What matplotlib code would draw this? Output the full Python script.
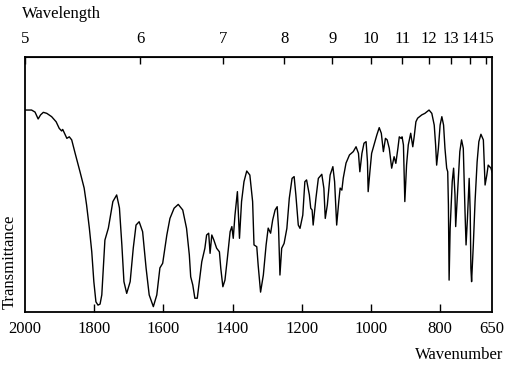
import matplotlib.pyplot as plt
import numpy as np

plt.rcParams['font.family'] = ['Liberation Serif', 'DejaVu Serif']

# IR spectrum: wavenumber (cm-1) vs transmittance (%)
wavenumber = [2000, 1981, 1971, 1962, 1955, 1947, 1937, 1923, 1910, 1901, 1894, 1891,
              1886, 1879, 1872, 1865, 1855, 1841, 1829, 1822, 1814, 1807, 1801, 1795,
              1789, 1783, 1778, 1769, 1759, 1746, 1735, 1727, 1720, 1714, 1706, 1696,
              1687, 1679, 1670, 1660, 1650, 1641, 1629, 1619, 1610, 1602, 1590, 1581,
              1569, 1557, 1544, 1533, 1525, 1521, 1515, 1509, 1502, 1496, 1489, 1480,
              1475, 1469, 1465, 1460, 1454, 1446, 1438, 1434, 1428, 1422, 1415, 1407,
              1402, 1398, 1393, 1386, 1380, 1374, 1367, 1359, 1350, 1342, 1338, 1330,
              1326, 1319, 1311, 1303, 1297, 1290, 1284, 1277, 1271, 1267, 1263, 1258,
              1251, 1243, 1236, 1228, 1222, 1217, 1210, 1205, 1197, 1191, 1186, 1178,
              1174, 1170, 1167, 1159, 1152, 1142, 1136, 1132, 1126, 1118, 1110, 1105,
              1099, 1093, 1089, 1084, 1080, 1072, 1062, 1051, 1043, 1036, 1032, 1026,
              1020, 1014, 1010, 1008, 1003, 998, 991, 983, 976, 970, 964, 958,
              953, 947, 940, 933, 928, 922, 918, 913, 910, 906, 902, 897,
              892, 885, 879, 875, 870, 865, 853, 844, 832, 824, 817, 813,
              810, 805, 800, 795, 790, 786, 781, 778, 776, 774, 771, 765,
              761, 757, 755, 749, 743, 738, 733, 728, 725, 721, 716, 713,
              711, 709, 704, 699, 693, 688, 682, 675, 670, 665, 661, 653, 650]
transmittance = [79.2, 79.2, 78.4, 75.7, 77.3, 78.3, 77.9, 76.6, 74.6, 72.0, 71.0, 71.6,
                 70.1, 68.1, 68.7, 67.5, 62.2, 55.0, 48.6, 42.0, 32.9, 23.6, 11.9, 4.0,
                 2.7, 3.1, 6.7, 28.2, 32.9, 43.3, 45.9, 40.8, 26.3, 11.9, 7.3, 11.9,
                 25.1, 34.1, 35.4, 31.5, 17.3, 6.7, 2.1, 6.7, 17.3, 19.1, 30.2, 36.7,
                 40.7, 42.2, 40.0, 32.8, 22.4, 13.8, 10.6, 5.4, 5.4, 11.9, 19.7, 25.0,
                 30.2, 30.9, 23.0, 30.2, 28.2, 25.0, 23.6, 17.1, 9.9, 12.5, 21.1, 31.5,
                 33.5, 28.9, 38.0, 47.2, 28.9, 43.3, 51.1, 55.3, 53.7, 43.3, 26.3, 25.6,
                 18.4, 7.8, 14.5, 26.3, 32.9, 30.9, 36.1, 40.0, 41.3, 32.8, 14.5, 25.0,
                 26.9, 32.8, 44.6, 52.4, 53.1, 45.9, 34.1, 32.8, 38.0, 51.1, 51.8, 45.9,
                 40.7, 40.0, 34.1, 44.6, 52.4, 54.0, 48.5, 36.7, 42.0, 53.7, 57.0, 51.1,
                 34.1, 43.3, 48.6, 47.8, 52.5, 58.4, 61.6, 62.9, 64.8, 62.2, 55.0, 62.2,
                 66.2, 66.8, 58.9, 47.2, 55.0, 62.2, 65.5, 69.4, 72.3, 70.1, 62.9, 68.1,
                 67.5, 64.2, 56.4, 60.9, 58.3, 64.2, 68.7, 68.1, 68.7, 65.5, 43.3, 57.6,
                 65.5, 70.1, 64.8, 68.7, 74.6, 76.0, 77.3, 77.9, 79.2, 77.9, 73.3, 65.5,
                 57.6, 64.2, 73.3, 76.6, 73.3, 64.2, 56.4, 55.0, 42.0, 12.5, 32.8, 51.1,
                 56.4, 45.9, 33.5, 48.5, 62.9, 67.5, 64.2, 39.3, 26.3, 36.7, 52.4, 39.3,
                 17.1, 11.9, 26.3, 43.3, 58.9, 66.8, 69.7, 67.5, 49.8, 53.7, 57.6, 56.4, 54.9]

bottom_ticks = [1800, 1600, 1400, 1200, 1000, 800]
label_pos = [2000, 1800, 1600, 1400, 1200, 1000, 800, 650]
bottom_labels = ['2000', '1800', '1600', '1400', '1200', '1000', '800', '650']
wavelength_ticks = [5, 6, 7, 8, 9, 10, 11, 12, 13, 14, 15]

fig = plt.figure(figsize=(5.11, 3.71), dpi=100)
ax = fig.add_axes([25 / 511, 1 - 312 / 371, 467 / 511, 255 / 371])

ax.plot(wavenumber, transmittance, color='black', lw=1.0,
        solid_joinstyle='round')
ax.set_xlim(2000, 650)
ax.set_ylim(0, 100)
ax.set_yticks([])

# inner tick marks at the bottom; labels written by hand so both ends get one
ax.set_xticks(bottom_ticks)
ax.set_xticklabels([])
ax.tick_params(axis='x', direction='in', length=6, width=1)
for x, lab in zip(label_pos, bottom_labels):
    ax.text(x, -3.5, lab, ha='center', va='top', fontsize=12)

for s in ax.spines.values():
    s.set_linewidth(1.3)


def to_um(x):
    x = np.asarray(x, dtype=float)
    return np.divide(1e4, x, out=np.full_like(x, np.inf), where=x != 0)


top = ax.secondary_xaxis('top', functions=(to_um, to_um))
top.set_xticks(wavelength_ticks)
top.set_xticklabels([str(t) for t in wavelength_ticks])
top.tick_params(direction='in', length=5, width=1, labelsize=12, pad=7)
top.xaxis.set_minor_locator(plt.NullLocator())

fig.text(22 / 511, 1 - 14 / 371, 'Wavelength', ha='left', va='center', fontsize=12)
fig.text(503 / 511, 1 - 355 / 371, 'Wavenumber', ha='right', va='center', fontsize=12)
fig.text(10 / 511, 1 - 262 / 371, 'Transmittance', ha='center', va='center',
         rotation=90, fontsize=12)

fig.savefig('out.png', dpi=100)
